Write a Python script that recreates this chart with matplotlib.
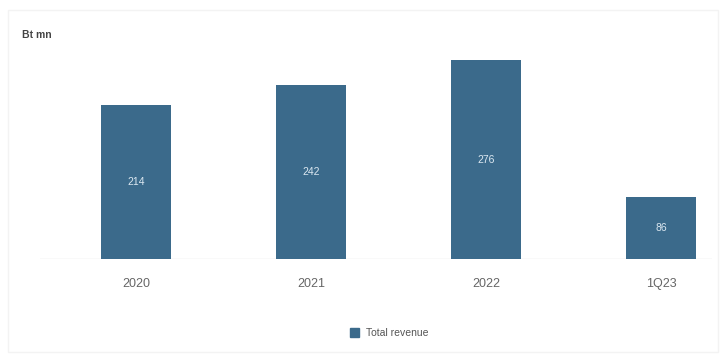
import matplotlib
matplotlib.use("Agg")
import matplotlib.pyplot as plt
from matplotlib.patches import Rectangle

plt.rcParams['font.family'] = ['Liberation Sans', 'DejaVu Sans']

categories = ["2020", "2021", "2022", "1Q23"]
revenue = [214, 242, 276, 86]
series_name = "Total revenue"
unit_label = "Bt mn"

bar_color = "#3b6a8b"

fig = plt.figure(figsize=(7.24, 3.56), dpi=100)
W, H = 724, 356

# faint outer frame
fig.patches.append(Rectangle((8 / W, 4 / H), 710 / W, 342 / H, transform=fig.transFigure,
                             fill=False, edgecolor="#f3f3f3", linewidth=1.0))

left_px, right_px = 40, 712
top_px, base_px = 43, 259
ax = fig.add_axes([left_px / W, (H - base_px) / H, (right_px - left_px) / W, (base_px - top_px) / H])

x = list(range(len(categories)))
bars = ax.bar(x, revenue, width=0.4, color=bar_color, zorder=2)
ax.set_xlim(-(136 - left_px) / 175, -(136 - left_px) / 175 + (right_px - left_px) / 175)
ax.set_ylim(0, 300)

for b, v in zip(bars, revenue):
    ax.text(b.get_x() + b.get_width() / 2, v / 2, str(v), ha="center", va="center",
            color="#dce8f1", fontsize=7.5, zorder=3)

ax.axhline(0, color="#e3e3e3", linewidth=1.0, zorder=1)
for s in ax.spines.values():
    s.set_visible(False)
ax.set_yticks([])
ax.set_xticks(x)
ax.set_xticklabels(categories, fontsize=9, color="#666666")
ax.tick_params(axis="x", length=0, pad=14)

fig.text(22 / W, 1 - 35 / H, unit_label, fontsize=7.5, fontweight="bold", color="#444444",
         ha="left", va="center")

leg = fig.legend([Rectangle((0, 0), 1, 1, color=bar_color)], [series_name],
                 loc="center", bbox_to_anchor=(389 / W, 1 - 333 / H), frameon=False,
                 fontsize=7.5, handlelength=0.9, handleheight=0.9, handletextpad=0.6)
for t in leg.get_texts():
    t.set_color("#555555")

fig.savefig("out.png", dpi=100, facecolor="white")
